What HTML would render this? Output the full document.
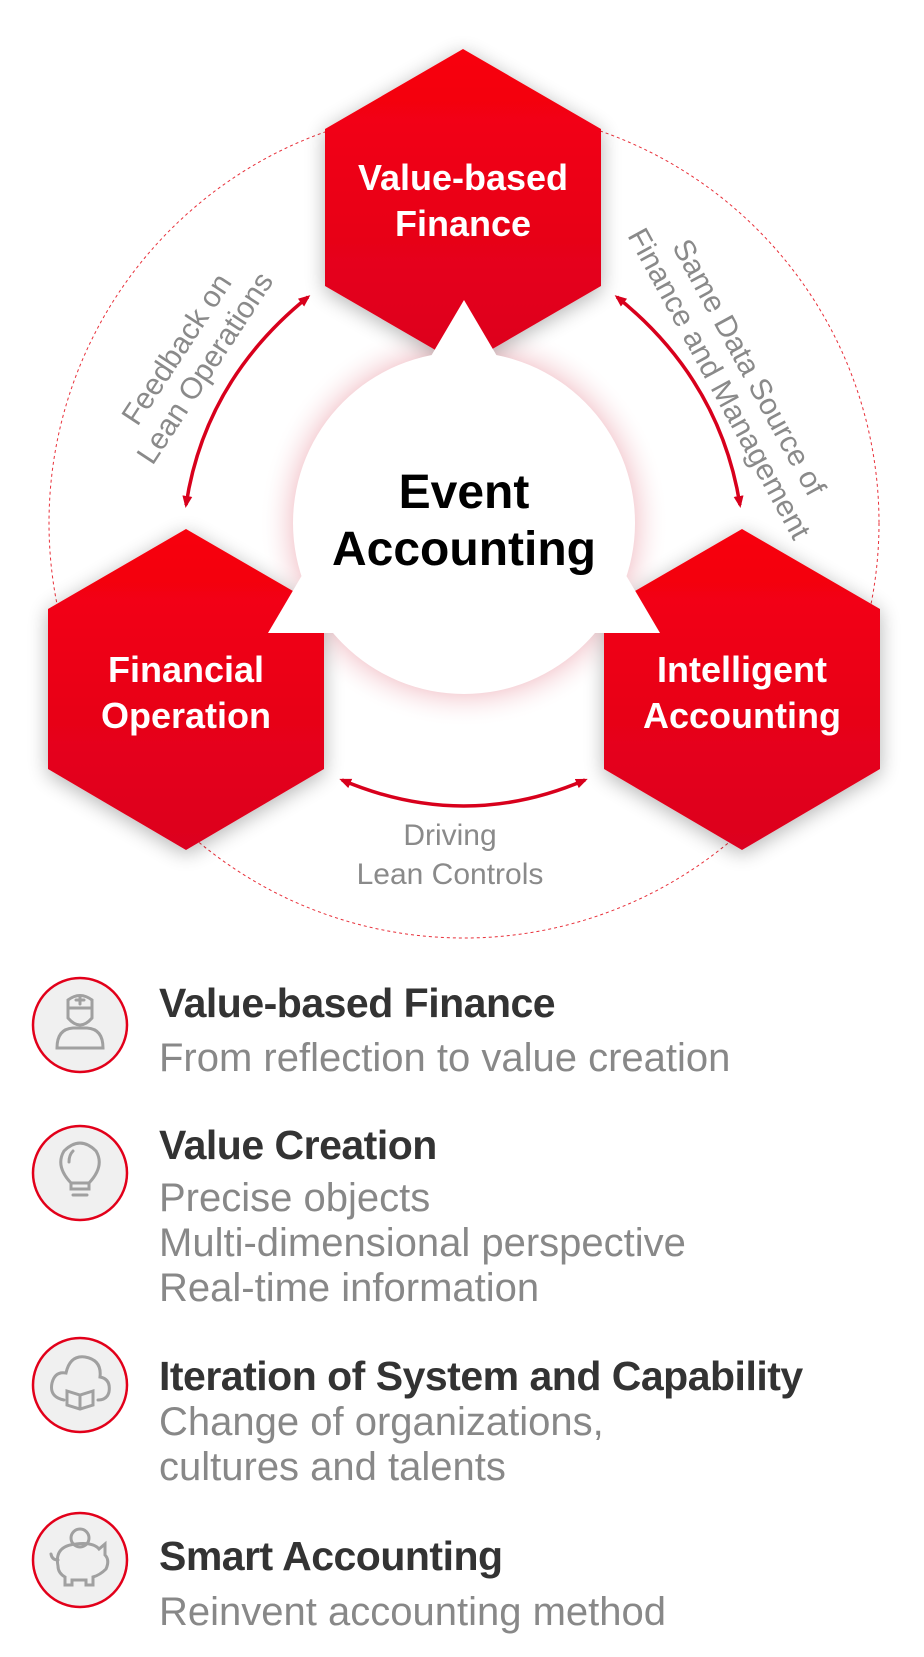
<!DOCTYPE html>
<html><head><meta charset="utf-8"><style>
html,body{margin:0;padding:0;background:#fff;}
body{width:924px;height:1657px;position:relative;overflow:hidden;font-family:"Liberation Sans",sans-serif;}
.t{position:absolute;left:159px;font-weight:bold;color:#333;font-size:41px;white-space:nowrap;letter-spacing:-0.5px;}
.s{position:absolute;left:159px;color:#888;font-size:40px;white-space:nowrap;line-height:45px;}
</style></head><body>
<svg width="924" height="950" style="position:absolute;left:0;top:0" xmlns="http://www.w3.org/2000/svg">
<defs>
<linearGradient id="hg" x1="0" y1="0" x2="0" y2="1"><stop offset="0" stop-color="#f8000e"/><stop offset="1" stop-color="#dc0020"/></linearGradient>
<radialGradient id="glow" cx="0.5" cy="0.5" r="0.5"><stop offset="0.8" stop-color="#f3c6cc"/><stop offset="1" stop-color="#fff" stop-opacity="0"/></radialGradient>
<filter id="sh" x="-30%" y="-30%" width="160%" height="160%"><feGaussianBlur in="SourceAlpha" stdDeviation="10"/><feOffset dx="0" dy="4"/><feComponentTransfer><feFuncA type="linear" slope="0.3"/></feComponentTransfer><feMerge><feMergeNode/><feMergeNode in="SourceGraphic"/></feMerge></filter>
<marker id="ar" markerWidth="12" markerHeight="12" refX="9" refY="6" orient="auto-start-reverse" markerUnits="userSpaceOnUse"><path d="M0,1 L12,6 L0,11 z" fill="#d8001c"/></marker>
</defs>
<circle cx="464" cy="523" r="415" fill="none" stroke="#e8303a" stroke-width="1" stroke-dasharray="3,3"/>
<circle cx="464" cy="523" r="205" fill="url(#glow)"/>
<g filter="url(#sh)" fill="url(#hg)">
<polygon points="463,49 601,129 601,286 463,366 325,286 325,129"/>
<polygon points="186,529 324,609 324,769 186,850 48,769 48,609"/>
<polygon points="742,529 880,609 880,769 742,850 604,769 604,609"/>
</g>
<circle cx="464" cy="523" r="171" fill="#fff"/>
<polygon points="464,300 660,633 268,633" fill="#fff"/>
<path d="M308,297 Q205,380 186,505" fill="none" stroke="#d8001c" stroke-width="3.5" marker-start="url(#ar)" marker-end="url(#ar)"/>
<path d="M617,297 Q720,380 740,505" fill="none" stroke="#d8001c" stroke-width="3.5" marker-start="url(#ar)" marker-end="url(#ar)"/>
<path d="M342,780 Q464,832 585,780" fill="none" stroke="#d8001c" stroke-width="3.5" marker-start="url(#ar)" marker-end="url(#ar)"/>
<g font-family="Liberation Sans, sans-serif" font-weight="bold" fill="#fff" font-size="36" text-anchor="middle">
<text x="463" y="190">Value-based</text><text x="463" y="236">Finance</text>
<text x="186" y="682">Financial</text><text x="186" y="728">Operation</text>
<text x="742" y="682">Intelligent</text><text x="742" y="728">Accounting</text>
</g>
<g font-family="Liberation Sans, sans-serif" font-weight="bold" fill="#000" font-size="48" text-anchor="middle">
<text x="464" y="508">Event</text><text x="464" y="565">Accounting</text>
</g>
<g font-family="Liberation Sans, sans-serif" fill="#8a8a8a" font-size="30" text-anchor="middle">
<text x="450" y="845">Driving</text><text x="450" y="884">Lean Controls</text>
<g transform="translate(190,358) rotate(-56.7)"><text x="0" y="-6">Feedback on</text><text x="0" y="28">Lean Operations</text></g>
<g transform="translate(735,375) rotate(61.4)"><text x="0" y="-6">Same Data Source of</text><text x="0" y="28">Finance and Management</text></g>
</g>
</svg>
<svg width="140" height="1657" style="position:absolute;left:0;top:0" xmlns="http://www.w3.org/2000/svg">
<g fill="#f0f0f0" stroke="#e2001a" stroke-width="2.5">
<circle cx="80" cy="1025" r="47"/><circle cx="80" cy="1173" r="47"/><circle cx="80" cy="1385" r="47"/><circle cx="80" cy="1560" r="47"/>
</g>
<g fill="none" stroke="#a0a0a0" stroke-width="3" stroke-linecap="round">
<path d="M68,1000 Q80,991 92,1000 L92,1018 Q80,1032 68,1018 Z"/><path d="M68,1008 H92"/><path d="M80,996 V1004 M76,1000 H84"/>
<path d="M57,1048 Q57,1029 73,1028 L87,1028 Q103,1029 103,1048 Z"/>
<path d="M71,1183 Q55,1166 64,1151 Q80,1135 96,1151 Q105,1166 89,1183 Z"/><path d="M71,1183 V1189 H89 V1183"/><path d="M73,1195 H87"/><path d="M69,1162 Q69,1155 73,1151"/>
<path d="M64,1400 Q49,1397 52,1383 Q55,1371 66,1373 Q70,1355 85,1357 Q102,1360 100,1377 Q111,1379 109,1392 Q107,1400 98,1400"/>
<path d="M67,1391 L80,1395 L93,1391 V1405 L80,1409 L67,1405 Z M80,1395 V1409"/>
<circle cx="80" cy="1538" r="9"/><path d="M58,1566 Q54,1546 76,1544 Q93,1542 99,1549 L105,1544 L105,1555 Q110,1560 106,1569 Q100,1575 93,1577 V1585 H86 V1580 H72 V1585 H65 V1577 Q58,1573 58,1566 Z"/><path d="M58,1560 Q52,1560 51,1554"/>
</g>
</svg>
<div class="t" style="top:980px">Value-based Finance</div>
<div class="s" style="top:1036px">From reflection to value creation</div>
<div class="t" style="top:1122px">Value Creation</div>
<div class="s" style="top:1176px">Precise objects<br>Multi-dimensional perspective<br>Real-time information</div>
<div class="t" style="top:1353px">Iteration of System and Capability</div>
<div class="s" style="top:1400px">Change of organizations,<br>cultures and talents</div>
<div class="t" style="top:1533px">Smart Accounting</div>
<div class="s" style="top:1590px">Reinvent accounting method</div>
</body></html>
